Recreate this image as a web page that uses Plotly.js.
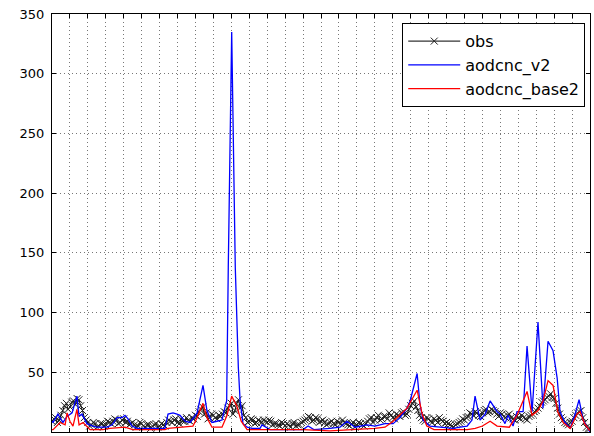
<!DOCTYPE html>
<html>
<head>
<meta charset="utf-8">
<script src="https://cdn.plot.ly/plotly-3.0.1.min.js"></script>
<style>html,body{margin:0;padding:0;background:#fff;}#chart{width:594px;height:436px;}</style>
</head>
<body>
<div id="chart"></div>
<script>
// Observations: regular time index (step 0.1 of a grid unit)
var obsStep = 0.1;
var obsY = [9,11,12,8,10,14,18,22,24,19,21,
  25,26,23,28,27,22,18,12,10,8,
  5,6,8,7,4,5,7,7,5,6,
  9,8,7,9,11,10,7,8,10,11,
  8,9,6,7,8,6,4,5,8,7,
  5,4,6,6,3,5,6,7,4,5,
  7,6,5,8,10,9,8,10,11,8,
  7,11,9,9,12,10,9,12,11,14,
  13,17,19,21,15,16,11,12,15,14,
  12,11,14,13,15,17,16,20,22,24,
  15,18,24,27,20,22,14,12,8,9,
  11,10,7,8,10,9,8,10,9,8,
  10,9,6,7,7,6,5,8,7,5,
  7,6,4,7,8,5,6,6,8,9,
  10,11,13,12,9,10,12,11,8,9,
  10,8,6,7,8,9,7,6,9,8,
  7,10,8,7,6,5,7,8,4,6,
  8,7,6,5,7,9,11,12,8,10,
  12,14,10,11,13,13,11,16,14,12,
  11,15,14,13,16,17,14,15,19,22,
  24,26,21,18,14,12,10,9,12,11,
  9,8,11,10,8,12,10,9,7,8,
  7,6,5,4,6,7,8,9,11,10,
  12,13,16,15,14,17,16,14,13,16,
  18,19,16,17,19,18,17,15,13,16,
  15,13,12,14,15,12,11,10,13,12,
  11,14,12,11,10,13,14,15,17,18,
  20,22,25,26,27,29,30,32,29,28,
  24,20,15,12,10,8,7,6,8,9,
  12,14,16,17,18,12,8,4,3,3];
var obsX = obsY.map(function(_, i){ return +(i * obsStep).toFixed(2); });

// aodcnc_v2
var v2X = [0,0.06,0.33,0.61,0.84,1.12,1.39,1.51,1.67,1.95,2.29,2.51,3.07,3.35,3.63,3.9,4.07,4.24,4.46,4.74,5.5,6.3,6.47,6.75,6.97,7.14,7.42,7.7,8.09,8.42,8.64,8.92,9.2,9.48,9.65,9.74,9.83,10.02,10.22,10.39,10.49,10.65,10.88,11.15,11.6,11.71,12.16,13.27,14.0,14.28,14.6,15.5,16.06,16.45,16.9,17.57,18.01,18.57,19.02,19.41,19.8,19.97,20.36,20.52,20.69,21.08,21.64,22.36,22.76,23.15,23.42,23.59,23.87,24.15,24.43,24.82,24.99,25.26,25.43,25.71,25.93,26.27,26.49,26.77,27.1,27.38,27.66,27.94,28.17,28.33,28.61,28.89,29.17,29.39,29.62,30.0];
var v2Y = [9,8,15,8,13,16,30,13,15,7,5,4,4,6,12,12,14,11,5,3,3,3,15,16,15,14,9,8,16,39,18,8,9,10,21,26,138,335,138,54,26,7,4,3,3,6,2,2,2,5,2,3,4,9,4,6,5,7,7,12,20,26,49,23,10,5,4,3,4,5,10,30,10,15,26,17,15,7,14,5,17,17,72,17,92,20,76,68,45,17,8,3,15,27,10,0];

// aodcnc_base2
var b2X = [0,0.06,0.45,0.73,0.84,1.0,1.17,1.39,1.51,1.73,2.12,2.84,3.23,4.07,4.5,5.5,6.3,6.47,7.14,7.86,8.09,8.42,8.64,8.92,9.48,9.76,10.02,10.3,10.55,10.88,12.0,14.0,15.5,17.0,18.0,18.57,19.02,19.8,20.36,20.64,20.9,21.3,22.36,23.15,23.6,24.0,24.43,24.82,25.5,25.93,26.49,26.77,27.1,27.38,27.66,27.94,28.2,28.5,28.89,29.28,29.45,29.7,30];
var b2Y = [2,2,8,6,16,9,5,19,6,8,2,2,3,4,2,2,2,3,4,5,12,24,12,4,4,14,30,22,9,2,2,2,1,2,3,4,9,20,35,15,5,2,2,2,3,5,9,5,4,14,34,14,18,26,43,39,17,8,3,15,17,7,1];

var yTicks = [0,50,100,150,200,250,300,350];

var traces = [
  {x: obsX, y: obsY, name: 'obs', type: 'scatter', mode: 'lines+markers',
   line: {color: '#000000', width: 1},
   marker: {symbol: 'x-thin-open', size: 7, color: '#222222', line: {color: '#222222', width: 1}}},
  {x: v2X, y: v2Y, name: 'aodcnc_v2', type: 'scatter', mode: 'lines',
   line: {color: '#0000ff', width: 1.3}},
  {x: b2X, y: b2Y, name: 'aodcnc_base2', type: 'scatter', mode: 'lines',
   line: {color: '#ff0000', width: 1.3}}
];

var layout = {
  width: 594, height: 436,
  margin: {l: 52, r: 4, t: 14, b: 4, pad: 0},
  paper_bgcolor: '#ffffff', plot_bgcolor: '#ffffff',
  font: {family: 'DejaVu Sans, sans-serif', size: 13, color: '#000000'},
  showlegend: true,
  legend: {x: 0.651, y: 0.978, xanchor: 'left', yanchor: 'top',
    bgcolor: '#ffffff', bordercolor: '#000000', borderwidth: 1,
    font: {family: 'DejaVu Sans, sans-serif', size: 16, color: '#000000'},
    itemwidth: 52},
  xaxis: {range: [0, 30], dtick: 1, tick0: 0, showticklabels: false,
    ticks: 'inside', ticklen: 4, tickcolor: '#000', mirror: 'ticks',
    showline: true, linecolor: '#000000', linewidth: 1,
    showgrid: true, gridcolor: '#777777', griddash: '1px,3px', gridwidth: 1, zeroline: false},
  yaxis: {range: [0, 350], tickvals: yTicks, ticktext: yTicks.map(String),
    ticks: 'inside', ticklen: 4, tickcolor: '#000', mirror: 'ticks',
    showline: true, linecolor: '#000000', linewidth: 1,
    showgrid: true, gridcolor: '#777777', griddash: '1px,3px', gridwidth: 1, zeroline: false,
    ticklabelstandoff: 4, tickfont: {size: 13}}
};

Plotly.newPlot('chart', traces, layout, {displayModeBar: false, staticPlot: true});
</script>
</body>
</html>
